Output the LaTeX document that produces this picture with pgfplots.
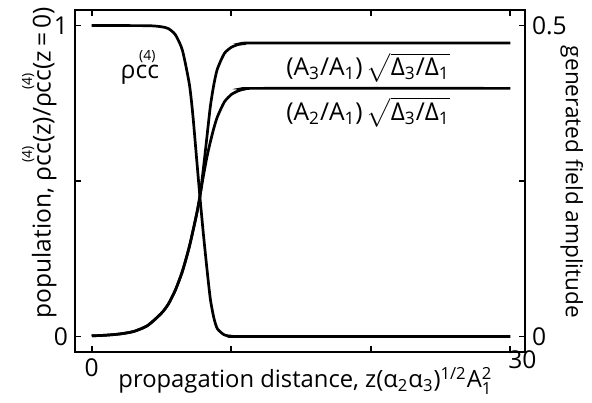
\documentclass[border=0pt]{standalone}
\usepackage{amsmath}
\usepackage{fontspec}
\setmainfont{Open Sans}
\usepackage{pgfplots}
\pgfplotsset{compat=1.18}

% population rho_cc (left axis units)
\pgfplotstableread{
x     y
0     1
4     0.9995
5     0.996
5.5   0.99
6     0.97
6.5   0.92
7     0.81
7.25  0.71
7.5   0.58
7.75  0.45
8     0.33
8.25  0.22
8.5   0.12
8.75  0.06
9     0.025
9.5   0.005
10    0.001
11    0
30    0
}\rhodata

% (A3/A1) sqrt(D3/D1), right axis units
\pgfplotstableread{
x     y
0     0.001
1     0.002
2     0.004
3     0.008
4     0.0175
5     0.0375
5.5   0.0525
6     0.075
6.5   0.105
7     0.145
7.5   0.195
7.75  0.225
8     0.27
8.25  0.32
8.5   0.37
8.75  0.405
9     0.43
9.5   0.455
10    0.465
10.5  0.4695
11    0.471
12    0.472
30    0.472
}\athree

% (A2/A1) sqrt(D3/D1), right axis units
\pgfplotstableread{
x     y
0     0.001
1     0.002
2     0.004
3     0.008
4     0.0175
5     0.0375
5.5   0.0525
6     0.075
6.5   0.105
7     0.145
7.5   0.195
7.75  0.225
8     0.258
8.25  0.288
8.5   0.313
8.75  0.335
9     0.353
9.5   0.377
10    0.389
10.5  0.395
11    0.398
12    0.399
30    0.399
}\atwo

\newcommand\rhocc{ρ$\overset{\text{\scriptsize(4)}}{\text{cc}}$}
\newcommand\fs{\fontsize{12.3}{14}\selectfont}

\pgfplotsset{
  base/.style={
    at={(0,0)}, anchor=south west,
    scale only axis, width=225pt, height=171pt,
    xmin=-1.2, xmax=31.05,
    tick align=inside, major tick length=3pt,
    axis line style={line width=1pt},
    every tick/.style={black, line width=0.9pt},
    tick label style={font=\fs},
    label style={font=\fs},
    /pgf/number format/assume math mode=true,
  },
  curve/.style={black, line width=1.35pt, smooth, tension=0.4, no markers},
}

\begin{document}
\begin{tikzpicture}
\useasboundingbox (-37.5pt,-25pt) rectangle (258.5pt,176pt);
\begin{axis}[base,
    ymin=-0.05, ymax=1.05,
    xtick={0,10,20}, xticklabels={0,,},
    extra x ticks={30}, extra x tick labels={30},
    extra x tick style={xticklabel style={xshift=6pt, yshift=4pt}},
    xtick pos=both, xticklabel pos=lower,
    ytick={0,0.5,1}, yticklabels={0,,1},
    ytick pos=left,
    xlabel={propagation distance,\ z(α\textsubscript{2}α\textsubscript{3})\textsuperscript{1/2}A$^{\text{2}}_{\text{1}}$},
    xlabel style={font=\fontsize{11.9}{14}\selectfont,
      at={(axis description cs:0.512,-0.105)}, anchor=base},
    ylabel={population,\ \rhocc(z)/\rhocc(z\,=\,0)},
    ylabel style={at={(axis description cs:-0.082,0.553)}, anchor=center},
]
\addplot[curve] table[x=x,y=y] {\rhodata};
\node[font=\fs] at (axis cs:3.45,0.87) {\rhocc};
\node[font=\fs] at (axis cs:19.8,0.865)
  {(A\textsubscript{3}/A\textsubscript{1})\,$\sqrt{\text{Δ\textsubscript{3}/Δ\textsubscript{1}}}$};
\node[font=\fs] at (axis cs:19.8,0.722)
  {(A\textsubscript{2}/A\textsubscript{1})\,$\sqrt{\text{Δ\textsubscript{3}/Δ\textsubscript{1}}}$};
\end{axis}
\begin{axis}[base,
    ymin=-0.025, ymax=0.525,
    axis x line=none, axis y line*=right,
    ytick={0,0.25,0.5}, yticklabels={0,,0.5},
    ylabel={generated field amplitude},
    ylabel style={font=\fontsize{11.3}{13}\selectfont,
      at={(axis description cs:1.104,0.497)}, anchor=center, rotate=180},
]
\addplot[curve] table[x=x,y=y] {\athree};
\addplot[curve] table[x=x,y=y] {\atwo};
\end{axis}
\end{tikzpicture}
\end{document}
